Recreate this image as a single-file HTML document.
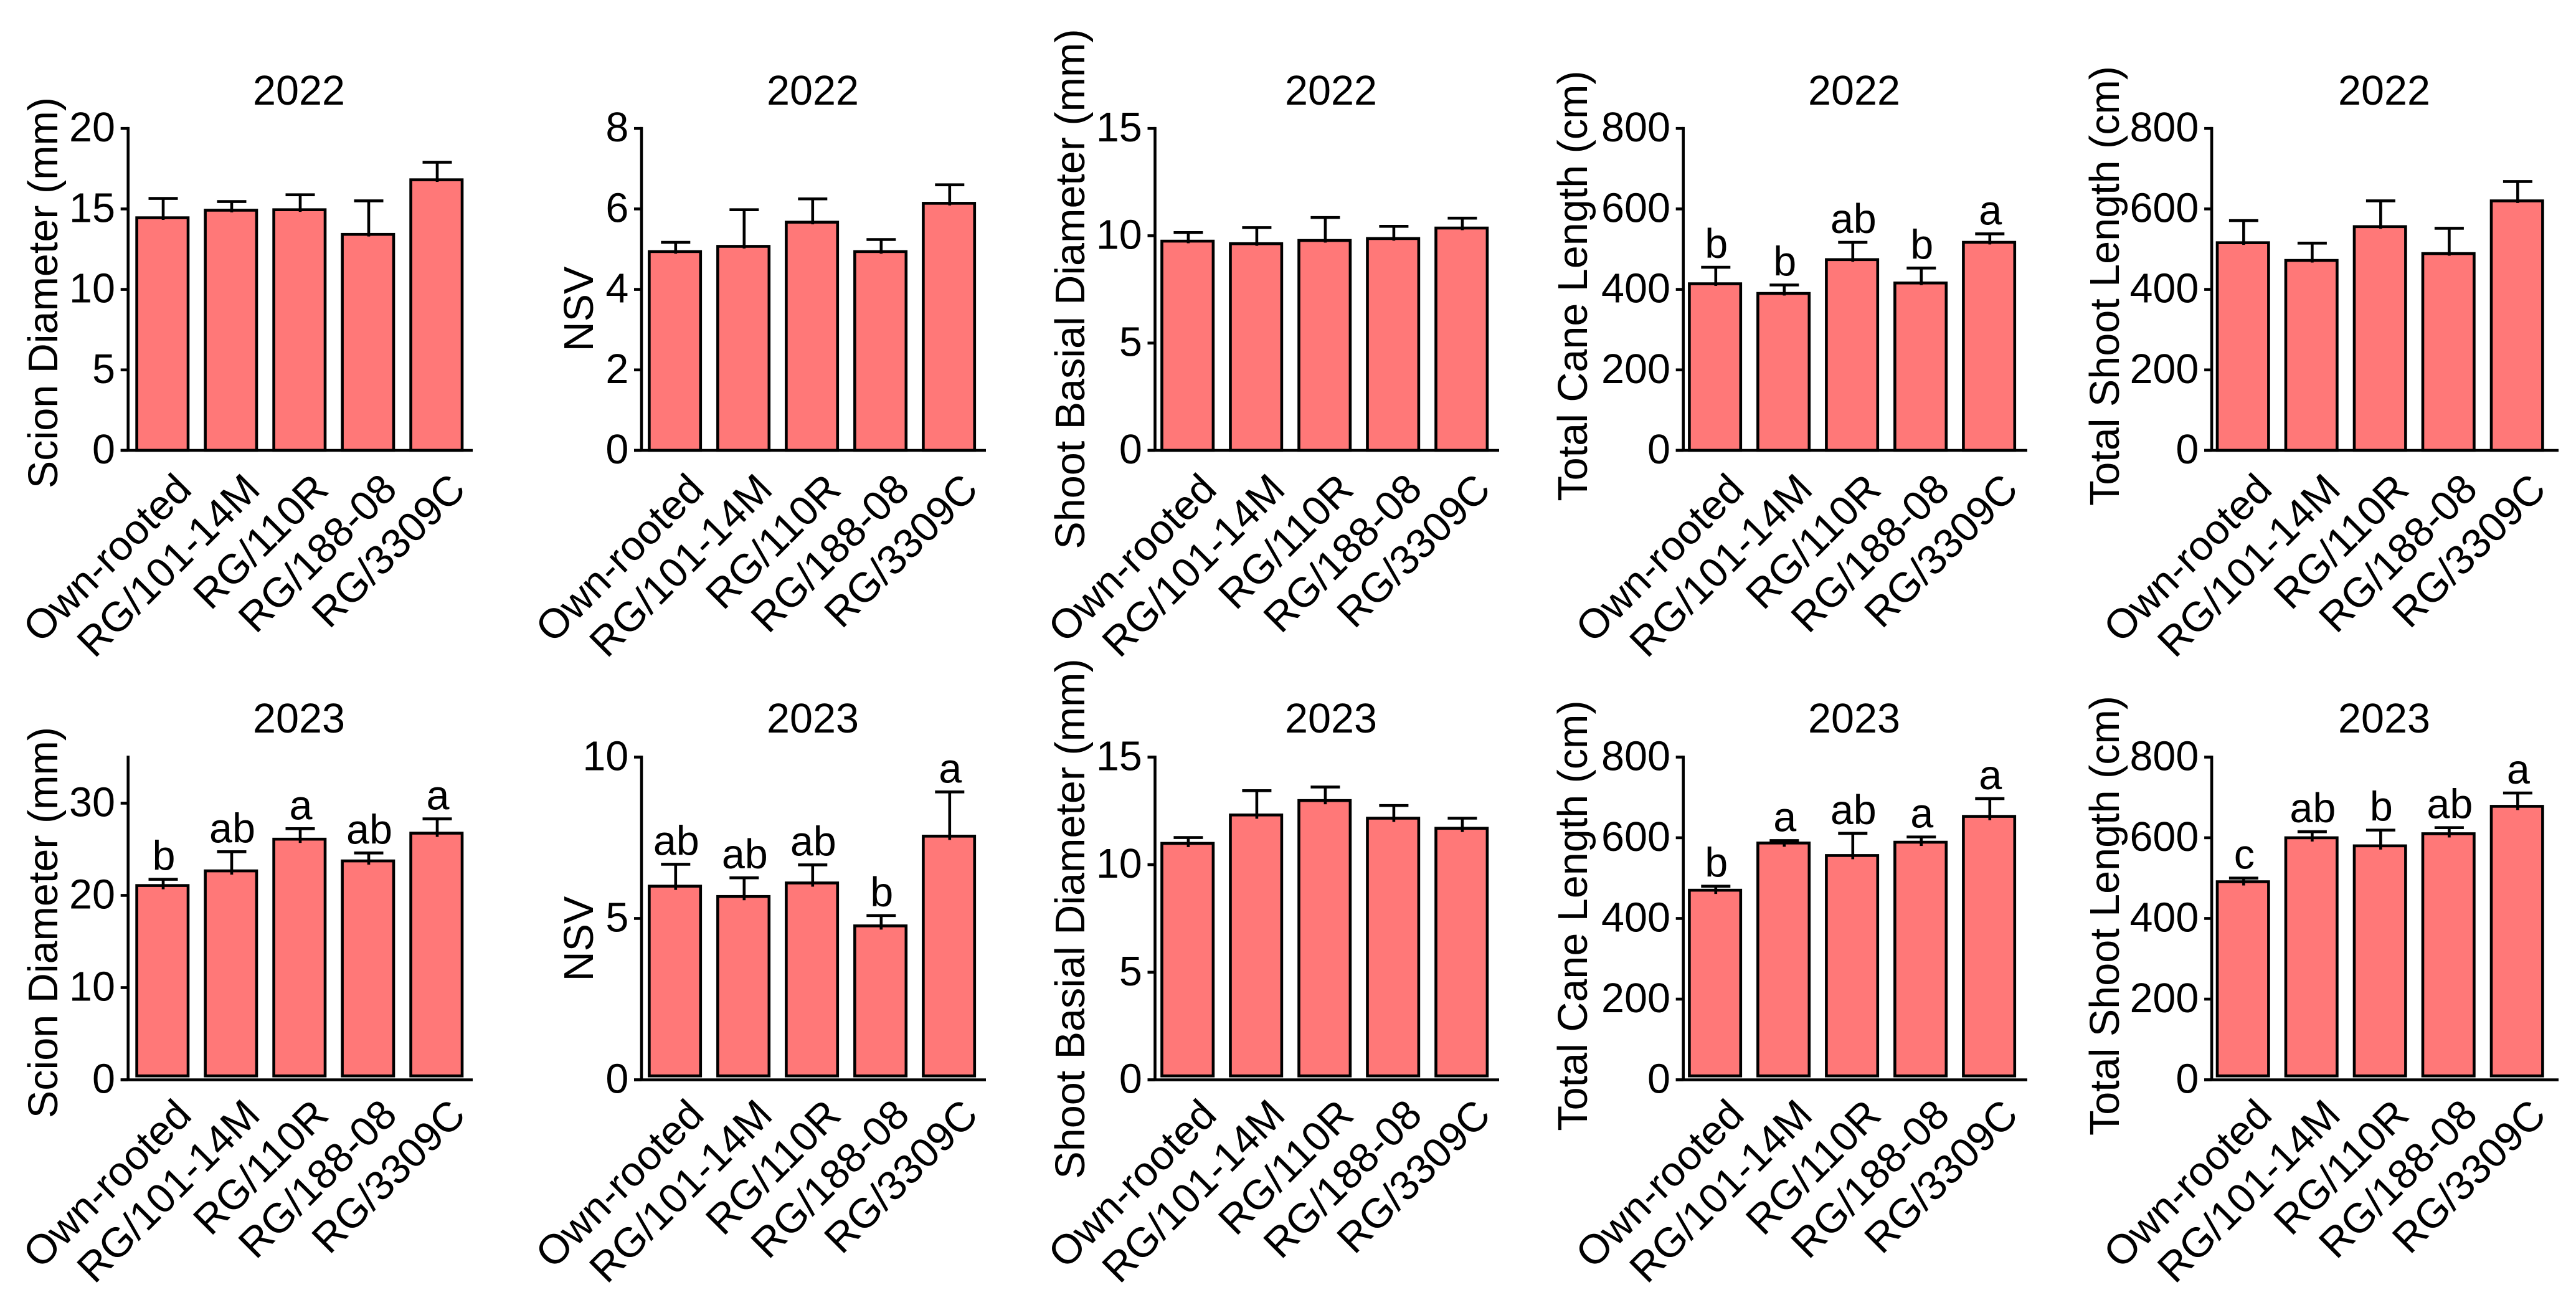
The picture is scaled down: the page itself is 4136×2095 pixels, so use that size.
<!DOCTYPE html>
<html lang="en">
<head>
<meta charset="utf-8">
<title>Rootstock bar charts 2022 and 2023</title>
<style>
  html, body { margin: 0; padding: 0; background: #ffffff; }
  svg { display: block; }
  text { font-family: "Liberation Sans", Arial, sans-serif; fill: #000000; }
</style>
</head>
<body>
<div id="figure"></div>
<script>
// ---- Data ----
const categories = ['Own-rooted', 'RG/101-14M', 'RG/110R', 'RG/188-08', 'RG/3309C'];

const ticksScion2022 = [0, 5, 10, 15, 20];
const ticksNsv2022 = [0, 2, 4, 6, 8];
const ticksBasal = [0, 5, 10, 15];
const ticksLength = [0, 200, 400, 600, 800];
const ticksScion2023 = [0, 10, 20, 30];
const ticksNsv2023 = [0, 5, 10];

const scion2022 = [14.45, 14.92, 14.95, 13.42, 16.81];
const scion2022Upper = [15.65, 15.46, 15.88, 15.5, 17.9];
const nsv2022 = [4.94, 5.07, 5.67, 4.94, 6.14];
const nsv2022Upper = [5.17, 5.98, 6.25, 5.24, 6.6];
const basal2022 = [9.75, 9.63, 9.78, 9.87, 10.36];
const basal2022Upper = [10.15, 10.38, 10.85, 10.44, 10.82];
const cane2022 = [414, 390, 474, 416, 517];
const cane2022Upper = [455, 411, 517, 453, 538];
const cane2022Letters = ['b', 'b', 'ab', 'b', 'a'];
const shoot2022 = [516, 472, 556, 489, 620];
const shoot2022Upper = [571, 515, 620, 552, 668];

const scion2023 = [21.07, 22.66, 26.1, 23.74, 26.75];
const scion2023Upper = [21.75, 24.74, 27.24, 24.6, 28.3];
const scion2023Letters = ['b', 'ab', 'a', 'ab', 'a'];
const nsv2023 = [6.0, 5.68, 6.1, 4.77, 7.55];
const nsv2023Upper = [6.68, 6.26, 6.66, 5.09, 8.92];
const nsv2023Letters = ['ab', 'ab', 'ab', 'b', 'a'];
const basal2023 = [10.99, 12.31, 12.98, 12.16, 11.69];
const basal2023Upper = [11.26, 13.44, 13.61, 12.75, 12.16];
const cane2023 = [470, 587, 556, 589, 653];
const cane2023Upper = [480, 593, 611, 602, 697];
const cane2023Letters = ['b', 'a', 'ab', 'a', 'a'];
const shoot2023 = [491, 600, 580, 610, 678];
const shoot2023Upper = [500, 615, 619, 625, 711];
const shoot2023Letters = ['c', 'ab', 'b', 'ab', 'a'];

const charts = [
  { col: 0, row: 0, year: '2022', yTitle: 'Scion Diameter (mm)', max: 20, ticks: ticksScion2022, values: scion2022, uppers: scion2022Upper, letters: null },
  { col: 1, row: 0, year: '2022', yTitle: 'NSV', max: 8, ticks: ticksNsv2022, values: nsv2022, uppers: nsv2022Upper, letters: null },
  { col: 2, row: 0, year: '2022', yTitle: 'Shoot Basial Diameter (mm)', max: 15, ticks: ticksBasal, values: basal2022, uppers: basal2022Upper, letters: null },
  { col: 3, row: 0, year: '2022', yTitle: 'Total Cane Length (cm)', max: 800, ticks: ticksLength, values: cane2022, uppers: cane2022Upper, letters: cane2022Letters },
  { col: 4, row: 0, year: '2022', yTitle: 'Total Shoot Length (cm)', max: 800, ticks: ticksLength, values: shoot2022, uppers: shoot2022Upper, letters: null },
  { col: 0, row: 1, year: '2023', yTitle: 'Scion Diameter (mm)', max: 35, ticks: ticksScion2023, values: scion2023, uppers: scion2023Upper, letters: scion2023Letters },
  { col: 1, row: 1, year: '2023', yTitle: 'NSV', max: 10, ticks: ticksNsv2023, values: nsv2023, uppers: nsv2023Upper, letters: nsv2023Letters },
  { col: 2, row: 1, year: '2023', yTitle: 'Shoot Basial Diameter (mm)', max: 15, ticks: ticksBasal, values: basal2023, uppers: basal2023Upper, letters: null },
  { col: 3, row: 1, year: '2023', yTitle: 'Total Cane Length (cm)', max: 800, ticks: ticksLength, values: cane2023, uppers: cane2023Upper, letters: cane2023Letters },
  { col: 4, row: 1, year: '2023', yTitle: 'Total Shoot Length (cm)', max: 800, ticks: ticksLength, values: shoot2023, uppers: shoot2023Upper, letters: shoot2023Letters }
];

// ---- Layout ----
const columnLayout = [
  { axisX: 205.7, firstBar: 260.8, axisEnd: 759, titleX: 480, yTitleX: 92, yTitleMid: 470 },
  { axisX: 1030, firstBar: 1083.6, axisEnd: 1583, titleX: 1305, yTitleX: 952, yTitleMid: 496 },
  { axisX: 1854.5, firstBar: 1906.7, axisEnd: 2407, titleX: 2137, yTitleX: 1741, yTitleMid: 464 },
  { axisX: 2702.7, firstBar: 2753.6, axisEnd: 3255, titleX: 2977, yTitleX: 2548, yTitleMid: 459 },
  { axisX: 3551.1, firstBar: 3601.2, axisEnd: 4108, titleX: 3828, yTitleX: 3402, yTitleMid: 459 }
];
const rowLayout = [
  { top: 206.2, base: 723, barBottom: 723, stemBelow: 3.4, titleY: 168, labelDy: 66, yTitleShift: 0 },
  { top: 1215.4, base: 1733.5, barBottom: 1727.2, stemBelow: 6, titleY: 1176, labelDy: 60, yTitleShift: 1011 }
];
const barPitch = 110;
const barWidth = 82.4;
const capWidth = 47;
const strokeW = 4.6;
const tickLen = 12;
const fontSize = 66.5;
const svgNS = 'http://www.w3.org/2000/svg';

function make(tag, attrs, parent) {
  const el = document.createElementNS(svgNS, tag);
  for (const k in attrs) el.setAttribute(k, attrs[k]);
  parent.appendChild(el);
  return el;
}

const svg = document.createElementNS(svgNS, 'svg');
svg.setAttribute('width', 4136);
svg.setAttribute('height', 2095);
svg.setAttribute('viewBox', '0 0 4136 2095');


document.getElementById('figure').appendChild(svg);

function drawChart(chart) {
  const c = columnLayout[chart.col];
  const r = rowLayout[chart.row];
  const yScale = v => r.base - (v / chart.max) * (r.base - r.top);
  const xScale = i => c.firstBar + i * barPitch;
  const slug = chart.yTitle.toLowerCase().replace(/[^a-z]+/g, '-').replace(/-$/, '') + '-' + chart.year;

  const g = make('g', {}, svg);
  
  

  const title = make('text', { x: c.titleX, y: r.titleY, 'font-size': fontSize, 'text-anchor': 'middle' }, g);
  title.textContent = chart.year;
  
  

  const yMid = c.yTitleMid + r.yTitleShift;
  const yTitle = make('text', { x: c.yTitleX, y: yMid, 'font-size': fontSize, 'text-anchor': 'middle', transform: 'rotate(-90 ' + c.yTitleX + ' ' + yMid + ')' }, g);
  yTitle.textContent = chart.yTitle;
  
  

  chart.values.forEach(function (value, i) {
    const cx = xScale(i);
    const y = yScale(value);
    const bar = make('rect', { x: cx - barWidth / 2, y: y, width: barWidth, height: r.barBottom - y, fill: '#ff7878', stroke: '#000', 'stroke-width': strokeW }, g);
    
    

    const ex = cx + 1.2;
    const yUp = yScale(chart.uppers[i]);
    const stem = make('line', { x1: ex, x2: ex, y1: y + r.stemBelow, y2: yUp, stroke: '#000', 'stroke-width': strokeW }, g);
    
    
    const cap = make('line', { x1: ex - capWidth / 2, x2: ex + capWidth / 2, y1: yUp, y2: yUp, stroke: '#000', 'stroke-width': strokeW }, g);
    
    

    if (chart.letters) {
      const letter = make('text', { x: ex + 1, y: yUp - 15, 'font-size': fontSize, 'text-anchor': 'middle' }, g);
      letter.textContent = chart.letters[i];
      
      
    }

    const lx = cx + 50;
    const ly = r.base + r.labelDy;
    const label = make('text', { x: lx, y: ly, 'font-size': fontSize, 'text-anchor': 'end', transform: 'rotate(-45 ' + lx + ' ' + ly + ')' }, g);
    label.textContent = categories[i];
    
    
  });

  const half = strokeW / 2;
  const yAxis = make('line', { x1: c.axisX, x2: c.axisX, y1: yScale(chart.max) - half, y2: r.base, stroke: '#000', 'stroke-width': strokeW }, g);
  
  
  const xAxis = make('line', { x1: c.axisX - tickLen, x2: c.axisEnd, y1: r.base, y2: r.base, stroke: '#000', 'stroke-width': strokeW }, g);
  
  

  chart.ticks.forEach(function (t) {
    const ty = yScale(t);
    const tick = make('line', { x1: c.axisX - tickLen, x2: c.axisX, y1: ty, y2: ty, stroke: '#000', 'stroke-width': strokeW }, g);
    
    
    const tl = make('text', { x: c.axisX - 20.7, y: ty + 21, 'font-size': fontSize, 'text-anchor': 'end' }, g);
    tl.textContent = t;
    
    
  });
}

charts.forEach(drawChart);
</script>
</body>
</html>
